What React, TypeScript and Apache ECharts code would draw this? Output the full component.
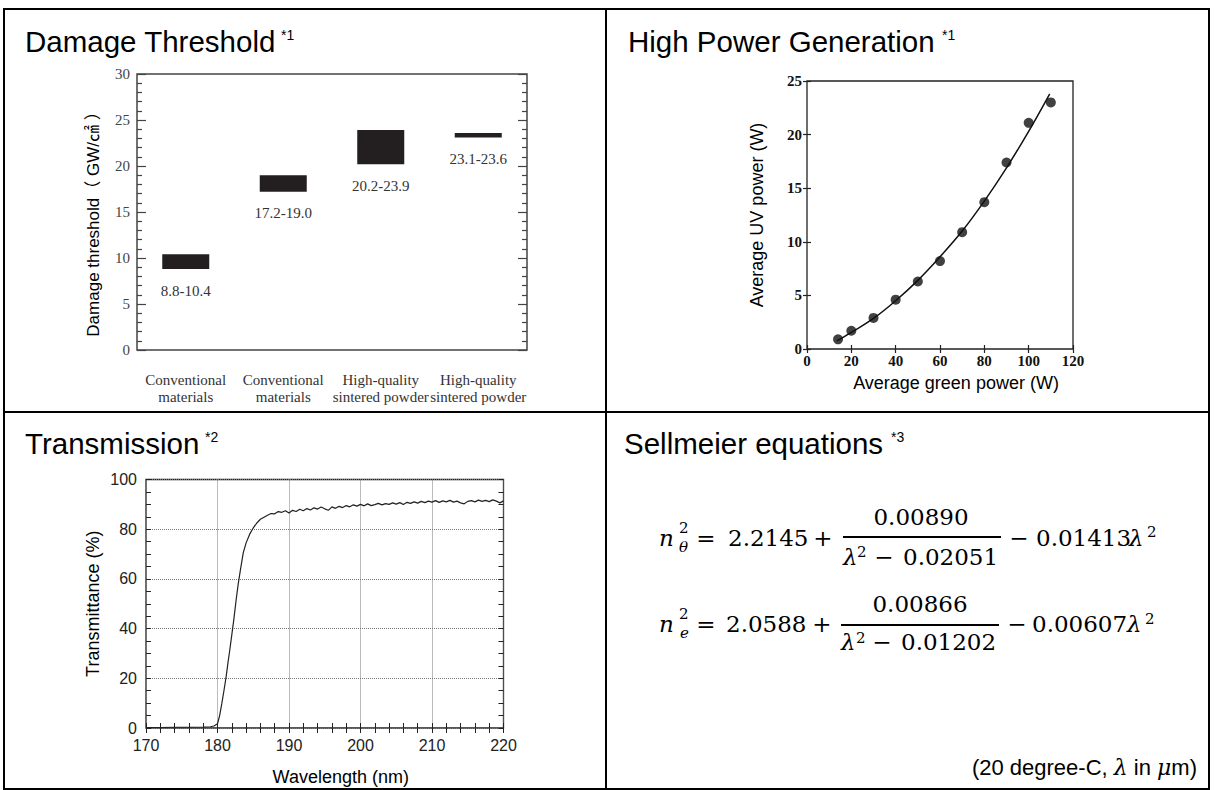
import React, { useEffect, useRef } from "react";
import * as echarts from "echarts";

// ---------- Damage threshold ----------
const damageCategories = [
  "Conventional\nmaterials",
  "Conventional\nmaterials",
  "High-quality\nsintered powder",
  "High-quality\nsintered powder",
];
const damageLow = [8.8, 17.2, 20.2, 23.1];
const damageHigh = [10.4, 19.0, 23.9, 23.6];
const damageTicks = [0, 30, 5];

// ---------- High power generation ----------
const greenPower = [14, 20, 30, 40, 50, 60, 70, 80, 90, 100, 110];
const uvPower = [0.9, 1.7, 2.9, 4.6, 6.3, 8.2, 10.9, 13.7, 17.4, 21.1, 23.0];
const fitGreen = [13.5, 20, 30, 40, 50, 60, 70, 80, 90, 100, 109.5];
const fitUv = [0.75, 1.55, 2.85, 4.5, 6.4, 8.6, 11.0, 13.8, 16.9, 20.3, 23.8];

// ---------- Transmission ----------
const transWavelength = [
  170, 172, 174, 176, 178, 179, 179.5, 180, 180.3, 180.6, 180.9, 181.2, 181.5, 181.7,
  182.0, 182.3, 182.6, 182.9, 183.2, 183.6, 184.0, 184.5, 185, 185.5, 186, 186.5, 187,
  187.5, 188, 188.5, 189, 189.5, 190, 190.5, 191, 191.5, 192, 192.5, 193, 193.5, 194,
  194.5, 195, 195.5, 196, 196.5, 197, 197.5, 198, 198.5, 199, 199.5, 200, 200.5, 201,
  201.5, 202, 202.5, 203, 203.5, 204, 204.5, 205, 205.5, 206, 206.5, 207, 207.5, 208,
  208.5, 209, 209.5, 210, 210.5, 211, 211.5, 212, 212.5, 213, 213.5, 214, 214.5, 215,
  215.5, 216, 216.5, 217, 217.5, 218, 218.5, 219, 219.5, 220,
];
const transmittance = [
  0.2, 0.2, 0.3, 0.3, 0.4, 0.5, 0.8, 1.7, 5, 9.8, 15, 20.5, 27, 31,
  37.5, 44, 51.4, 58, 63.5, 70.5, 74.5, 78, 80.5, 82.5, 84, 84.8, 85.6,
  86.3, 86.2, 87.1, 86.8, 87.4, 86.5, 87.6, 87.1, 88.0, 87.4, 88.3, 87.7, 88.6, 88.1,
  88.9, 88.2, 87.6, 89.0, 88.4, 89.2, 88.7, 89.5, 89.0, 89.8, 89.3, 90.0, 89.4, 90.2,
  89.5, 89.9, 90.4, 89.8, 90.3, 90.0, 90.6, 90.1, 90.7, 89.9, 90.8, 90.4, 91.0, 90.5,
  91.2, 90.7, 91.3, 90.9, 91.5, 90.8, 91.4, 91.0, 91.6, 90.9, 91.3, 90.6, 90.2, 91.2,
  91.5, 91.0, 91.7, 91.2, 91.6, 91.1, 91.8, 91.3, 90.6, 91.4,
];

const SERIF = "'Times New Roman', 'Liberation Serif', serif";
const SANS = "Arial, 'Liberation Sans', sans-serif";
const MATH = "'DejaVu Serif', serif";

function mathText(text: string, x: number, y: number, size: number, opts: any = {}) {
  return {
    type: "text",
    x,
    y,
    style: {
      text,
      fontFamily: MATH,
      fontSize: size,
      fontStyle: opts.italic ? "italic" : "normal",
      fill: "#000",
      align: opts.align || "left",
      verticalAlign: "middle",
    },
  };
}

function title(text: string, sup: string, x: number, y: number, supX: number) {
  return [
    {
      type: "text",
      x,
      y,
      style: { text, fontFamily: SANS, fontSize: 29.5, fill: "#000", align: "left", verticalAlign: "middle" },
    },
    {
      type: "text",
      x: supX,
      y: y - 6,
      style: { text: sup, fontFamily: SANS, fontSize: 14, fill: "#000", align: "left", verticalAlign: "middle" },
    },
  ];
}

export default function App() {
  const ref = useRef<HTMLDivElement>(null);

  useEffect(() => {
    if (!ref.current) return;
    const chart = echarts.init(ref.current, undefined, { renderer: "svg" });

    const tickStyle = (color: string, width = 1) => ({ color, width });

    const graphics: any[] = [
      // table frame
      { type: "rect", shape: { x: 4, y: 9, width: 1205, height: 780 }, style: { fill: "none", stroke: "#000", lineWidth: 2 } },
      { type: "line", shape: { x1: 606, y1: 9, x2: 606, y2: 789 }, style: { stroke: "#000", lineWidth: 2 } },
      { type: "line", shape: { x1: 4, y1: 412, x2: 1209, y2: 412 }, style: { stroke: "#000", lineWidth: 2 } },
      ...title("Damage Threshold", "*1", 25, 41, 281),
      ...title("High Power Generation", "*1", 628, 41, 942),
      ...title("Transmission", "*2", 25, 443, 205),
      ...title("Sellmeier equations", "*3", 624, 443, 891),

      // equation 1
      mathText("n", 659, 538, 23, { italic: true }),
      mathText("2", 679, 527.5, 15),
      mathText("θ", 679, 547, 15, { italic: true }),
      mathText("=", 706, 538, 23, { align: "center" }),
      mathText("2.2145", 728, 538, 23),
      mathText("+", 823, 538, 23, { align: "center" }),
      { type: "line", shape: { x1: 843, y1: 537, x2: 1001, y2: 537 }, style: { stroke: "#000", lineWidth: 2 } },
      mathText("0.00890", 921, 516.5, 23, { align: "center" }),
      mathText("λ", 843, 556.5, 23, { italic: true }),
      mathText("2", 857, 551.5, 15),
      mathText("−", 884, 556.5, 23, { align: "center" }),
      mathText("0.02051", 903, 556.5, 23),
      mathText("−", 1019, 538, 23, { align: "center" }),
      mathText("0.01413", 1036, 538, 23),
      mathText("λ", 1129, 538, 23, { italic: true }),
      mathText("2", 1147, 532, 15),

      // equation 2
      mathText("n", 659, 624, 23, { italic: true }),
      mathText("2", 679, 614, 15),
      mathText("e", 680, 632.5, 15, { italic: true }),
      mathText("=", 706, 624, 23, { align: "center" }),
      mathText("2.0588", 726, 624, 23),
      mathText("+", 822, 624, 23, { align: "center" }),
      { type: "line", shape: { x1: 841, y1: 625, x2: 999, y2: 625 }, style: { stroke: "#000", lineWidth: 2 } },
      mathText("0.00866", 920, 603.5, 23, { align: "center" }),
      mathText("λ", 841, 642, 23, { italic: true }),
      mathText("2", 856, 638, 15),
      mathText("−", 882, 642, 23, { align: "center" }),
      mathText("0.01202", 901, 642, 23),
      mathText("−", 1017, 624, 23, { align: "center" }),
      mathText("0.00607", 1032, 624, 23),
      mathText("λ", 1127, 624, 23, { italic: true }),
      mathText("2", 1145, 618.5, 15),

      {
        type: "text",
        x: 1197,
        y: 767,
        style: {
          text: "(20 degree-C, {m|λ} in {m|μ}m)",
          fontFamily: SANS,
          fontSize: 22,
          fill: "#000",
          align: "right",
          verticalAlign: "middle",
          rich: { m: { fontFamily: MATH, fontStyle: "italic", fontSize: 22, fill: "#000" } },
        },
      },
    ];

    const option: any = {
      animation: false,
      backgroundColor: "#fff",
      graphic: graphics,
      grid: [
        { left: 137, top: 74, width: 390, height: 276, show: true, borderColor: "#444", borderWidth: 1.5 },
        { left: 807, top: 81, width: 266, height: 268, show: true, borderColor: "#222", borderWidth: 1.3 },
        { left: 146, top: 479.5, width: 357.5, height: 248.5, show: true, borderColor: "#222", borderWidth: 1.3 },
      ],
      xAxis: [
        {
          gridIndex: 0,
          type: "category",
          data: damageCategories,
          axisLine: { show: false },
          axisTick: { show: false },
          axisLabel: { fontFamily: SERIF, fontSize: 15, color: "#333", lineHeight: 17, margin: 21, interval: 0 },
        },
        {
          gridIndex: 1,
          type: "value",
          min: 0,
          max: 120,
          interval: 20,
          axisLine: { show: false },
          axisTick: { show: true, inside: true, length: 4, lineStyle: tickStyle("#222", 1.2) },
          splitLine: { show: false },
          axisLabel: { fontFamily: SERIF, fontWeight: "bold", fontSize: 15, color: "#111", margin: 4 },
          name: "Average green power (W)",
          nameLocation: "middle",
          nameGap: 25,
          nameTextStyle: { fontFamily: SANS, fontSize: 18, color: "#000", padding: [0, 0, 0, 32] },
        },
        {
          gridIndex: 1,
          type: "value",
          position: "top",
          min: 0,
          max: 120,
          interval: 20,
          axisLine: { show: false },
          axisTick: { show: true, inside: true, length: 4, lineStyle: tickStyle("#222", 1.2) },
          splitLine: { show: false },
          axisLabel: { show: false },
        },
        {
          gridIndex: 2,
          type: "value",
          min: 170,
          max: 220,
          interval: 10,
          axisLine: { show: false },
          axisTick: { show: true, inside: true, length: 5, lineStyle: tickStyle("#222") },
          minorTick: { show: true, splitNumber: 5, length: 5, lineStyle: tickStyle("#222") },
          splitLine: { show: true, lineStyle: { color: "#777", type: "dotted", width: 1 } },
          axisLabel: { fontFamily: SANS, fontSize: 16, color: "#222", margin: 9 },
          name: "Wavelength (nm)",
          nameLocation: "middle",
          nameGap: 40,
          nameTextStyle: { fontFamily: SANS, fontSize: 18, color: "#000", padding: [0, 0, 0, 32] },
        },
        {
          gridIndex: 2,
          type: "value",
          position: "top",
          min: 170,
          max: 220,
          interval: 10,
          axisLine: { show: false },
          axisTick: { show: true, inside: true, length: 5, lineStyle: tickStyle("#222") },
          minorTick: { show: true, splitNumber: 5, length: 5, lineStyle: tickStyle("#222") },
          splitLine: { show: false },
          axisLabel: { show: false },
        },
      ],
      yAxis: [
        {
          gridIndex: 0,
          type: "value",
          min: damageTicks[0],
          max: damageTicks[1],
          interval: damageTicks[2],
          axisLine: { show: false },
          axisTick: { show: true, inside: true, length: 9, lineStyle: tickStyle("#444", 1.2) },
          minorTick: { show: true, splitNumber: 5, length: 5, lineStyle: tickStyle("#444", 1.2) },
          splitLine: { show: false },
          axisLabel: { fontFamily: SERIF, fontSize: 15, color: "#444", margin: 7 },
          name: "Damage threshold（ GW/㎠ ）",
          nameLocation: "middle",
          nameGap: 35,
          nameTextStyle: {
            fontFamily: "Arial, 'Noto Sans CJK JP', sans-serif",
            fontSize: 17,
            color: "#000",
            padding: [0, 16, 0, 0],
          },
        },
        {
          gridIndex: 0,
          type: "value",
          position: "right",
          min: damageTicks[0],
          max: damageTicks[1],
          interval: damageTicks[2],
          axisLine: { show: false },
          axisTick: { show: true, inside: true, length: 9, lineStyle: tickStyle("#444", 1.2) },
          minorTick: { show: true, splitNumber: 5, length: 5, lineStyle: tickStyle("#444", 1.2) },
          splitLine: { show: false },
          axisLabel: { show: false },
        },
        {
          gridIndex: 1,
          type: "value",
          min: 0,
          max: 25,
          interval: 5,
          axisLine: { show: false },
          axisTick: { show: true, inside: true, length: 4, lineStyle: tickStyle("#222", 1.2) },
          splitLine: { show: false },
          axisLabel: { fontFamily: SERIF, fontWeight: "bold", fontSize: 15, color: "#111", margin: 5 },
          name: "Average UV power (W)",
          nameLocation: "middle",
          nameGap: 41,
          nameTextStyle: { fontFamily: SANS, fontSize: 18, color: "#000" },
        },
        {
          gridIndex: 1,
          type: "value",
          position: "right",
          min: 0,
          max: 25,
          interval: 5,
          axisLine: { show: false },
          axisTick: { show: true, inside: true, length: 4, lineStyle: tickStyle("#222", 1.2) },
          splitLine: { show: false },
          axisLabel: { show: false },
        },
        {
          gridIndex: 2,
          type: "value",
          min: 0,
          max: 100,
          interval: 20,
          axisLine: { show: false },
          axisTick: { show: true, inside: true, length: 5, lineStyle: tickStyle("#222") },
          minorTick: { show: true, splitNumber: 4, length: 5, lineStyle: tickStyle("#222") },
          splitLine: { show: true, lineStyle: { color: "#777", type: "dotted", width: 1 } },
          axisLabel: { fontFamily: SANS, fontSize: 16, color: "#222", margin: 9 },
          name: "Transmittance (%)",
          nameLocation: "middle",
          nameGap: 44,
          nameTextStyle: { fontFamily: SANS, fontSize: 18, color: "#000" },
        },
        {
          gridIndex: 2,
          type: "value",
          position: "right",
          min: 0,
          max: 100,
          interval: 20,
          axisLine: { show: false },
          axisTick: { show: true, inside: true, length: 5, lineStyle: tickStyle("#222") },
          minorTick: { show: true, splitNumber: 4, length: 5, lineStyle: tickStyle("#222") },
          splitLine: { show: false },
          axisLabel: { show: false },
        },
      ],
      series: [
        {
          type: "bar",
          xAxisIndex: 0,
          yAxisIndex: 0,
          stack: "damage",
          barWidth: 47,
          data: damageLow,
          itemStyle: { color: "transparent" },
          silent: true,
        },
        {
          type: "bar",
          xAxisIndex: 0,
          yAxisIndex: 0,
          stack: "damage",
          barWidth: 47,
          data: damageHigh.map((h, i) => +(h - damageLow[i]).toFixed(2)),
          itemStyle: { color: "#231f20" },
          label: {
            show: true,
            position: "bottom",
            distance: 14,
            fontFamily: SERIF,
            fontSize: 15,
            color: "#333",
            formatter: (p: any) => `${damageLow[p.dataIndex].toFixed(1)}-${damageHigh[p.dataIndex].toFixed(1)}`,
          },
        },
        {
          type: "line",
          xAxisIndex: 1,
          yAxisIndex: 2,
          data: fitGreen.map((x, i) => [x, fitUv[i]]),
          smooth: 0.4,
          showSymbol: false,
          lineStyle: { color: "#111", width: 1.5 },
        },
        {
          type: "scatter",
          xAxisIndex: 1,
          yAxisIndex: 2,
          data: greenPower.map((x, i) => [x, uvPower[i]]),
          symbol: "circle",
          symbolSize: 10,
          itemStyle: { color: "#111" },
        },
        {
          type: "line",
          xAxisIndex: 3,
          yAxisIndex: 4,
          data: transWavelength.map((x, i) => [x, transmittance[i]]),
          showSymbol: false,
          lineStyle: { color: "#222", width: 1.2 },
        },
      ],
    };

    chart.setOption(option);
    return () => chart.dispose();
  }, []);

  return (
    <div
      ref={ref}
      style={{ position: "absolute", left: 0, top: 0, width: 1214, height: 790, background: "#fff" }}
    />
  );
}
